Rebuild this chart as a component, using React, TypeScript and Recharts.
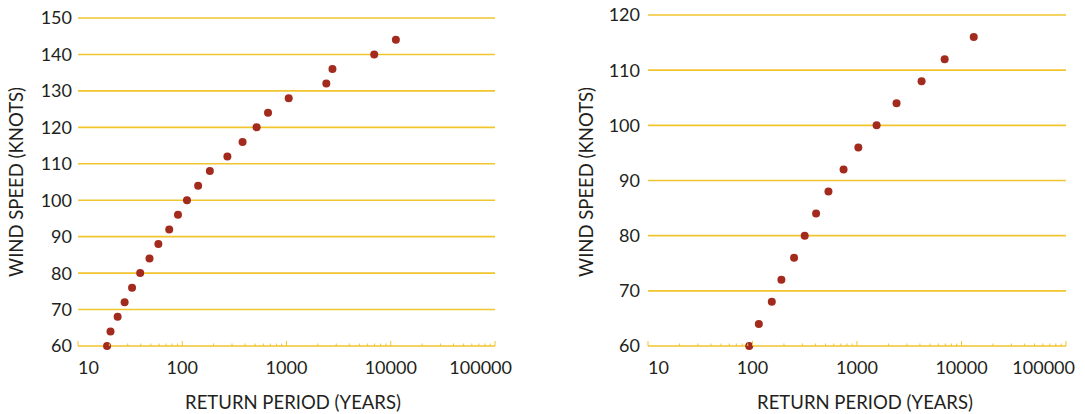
import { ScatterChart, Scatter, XAxis, YAxis, CartesianGrid } from "recharts";

// return period (years) vs wind speed (knots)
const leftPeriods = [19, 20.5, 24, 28, 33, 39.5, 48.5, 59, 75, 91, 111, 142, 184, 271, 379, 517, 665, 1050, 2410, 2760, 6940, 11200];
const leftSpeeds = [60, 64, 68, 72, 76, 80, 84, 88, 92, 96, 100, 104, 108, 112, 116, 120, 124, 128, 132, 136, 140, 144];

const rightPeriods = [93, 115, 153, 189, 250, 316, 406, 533, 744, 1030, 1540, 2390, 4150, 6900, 13100];
const rightSpeeds = [60, 64, 68, 72, 76, 80, 84, 88, 92, 96, 100, 104, 108, 112, 116];

const xTicks = [10, 100, 1000, 10000, 100000];
const minorSteps = [2, 3, 4, 5, 6, 7, 8, 9];
const leftYTicks = [60, 70, 80, 90, 100, 110, 120, 130, 140, 150];
const rightYTicks = [60, 70, 80, 90, 100, 110, 120];

const xTitle = "RETURN PERIOD (YEARS)";
const yTitle = "WIND SPEED (KNOTS)";

const GOLD = "#F0C52E";
const DOT = "#A32B1D";
const INK = "#231F20";
const FONT = "Lato, sans-serif";

// every tick mark along the log axis: decades plus 2..9 in between
const allTicks = xTicks.concat(
  xTicks.slice(0, -1).flatMap((d) => minorSteps.map((m) => d * m))
);

const Dot = (props: any) => <circle cx={props.cx} cy={props.cy} r={4} fill={DOT} />;

const makeBottomTick = (lastShift: number) => (props: any) => {
  const { x, y, payload } = props;
  const v = payload.value;
  const major = xTicks.includes(v);
  let anchor: "start" | "middle" | "end" = "middle";
  let tx = x;
  if (v === xTicks[0]) anchor = "start";
  if (v === xTicks[xTicks.length - 1]) {
    anchor = "end";
    tx = x + lastShift;
  }
  return (
    <g>
      <line x1={x} x2={x} y1={y} y2={y - (major ? 5 : 2.5)} stroke={GOLD} strokeWidth={1} />
      {major && (
        <text x={tx} y={y + 15} dy="0.71em" textAnchor={anchor} fill={INK} fontSize={18} fontFamily={FONT}>
          {v}
        </text>
      )}
    </g>
  );
};

const TopTick = (props: any) => {
  const { x, y, payload } = props;
  const major = xTicks.includes(payload.value);
  return <line x1={x} x2={x} y1={y} y2={y + (major ? 5 : 2.5)} stroke={GOLD} strokeWidth={1} />;
};

type PanelProps = {
  periods: number[];
  speeds: number[];
  yTicks: number[];
  left: number;
  top: number;
  right: number;
  yWidth: number;
  yMargin: number;
  lastShift: number;
  yTitleX: number;
  xTitleX: number;
};

const Panel = (p: PanelProps) => {
  const data = p.periods.map((period, i) => ({ period, speed: p.speeds[i] }));
  return (
    <div style={{ position: "absolute", left: p.left, top: 0, width: 540, height: 414 }}>
      <ScatterChart width={540} height={414} margin={{ top: p.top, right: p.right, bottom: 0, left: 0 }}>
        <CartesianGrid vertical={false} stroke={GOLD} strokeWidth={1.6} />
        <XAxis
          dataKey="period"
          type="number"
          scale="log"
          domain={[10, 100000]}
          ticks={allTicks}
          interval={0}
          height={68}
          axisLine={false}
          tickLine={false}
          tickSize={0}
          tickMargin={0}
          tick={makeBottomTick(p.lastShift)}
          allowDataOverflow
        />
        <XAxis
          xAxisId="top"
          orientation="top"
          type="number"
          scale="log"
          domain={[10, 100000]}
          ticks={allTicks}
          interval={0}
          height={0}
          axisLine={false}
          tickLine={false}
          tickSize={0}
          tickMargin={0}
          tick={TopTick}
          allowDataOverflow
        />
        <YAxis
          dataKey="speed"
          type="number"
          domain={[p.yTicks[0], p.yTicks[p.yTicks.length - 1]]}
          ticks={p.yTicks}
          interval={0}
          width={p.yWidth}
          axisLine={false}
          tickLine={false}
          tickSize={0}
          tickMargin={p.yMargin}
          tick={{ fill: INK, fontSize: 18, fontFamily: FONT }}
        />
        <Scatter data={data} shape={<Dot />} isAnimationActive={false} />
      </ScatterChart>
      <div
        style={{
          position: "absolute",
          left: p.yTitleX,
          top: 182,
          transform: "translate(-50%, -50%) rotate(-90deg)",
          whiteSpace: "nowrap",
          fontFamily: FONT,
          fontSize: 18.5,
          color: INK,
        }}
      >
        {yTitle}
      </div>
      <div
        style={{
          position: "absolute",
          left: p.xTitleX,
          top: 402,
          transform: "translate(-50%, -50%)",
          whiteSpace: "nowrap",
          fontFamily: FONT,
          fontSize: 18.5,
          color: INK,
        }}
      >
        {xTitle}
      </div>
    </div>
  );
};

export default function App() {
  return (
    <div style={{ position: "absolute", left: 0, top: 0, width: 1085, height: 414, background: "#fff" }}>
      <Panel
        periods={leftPeriods}
        speeds={leftSpeeds}
        yTicks={leftYTicks}
        left={0}
        top={18}
        right={45}
        yWidth={78}
        yMargin={6}
        lastShift={17}
        yTitleX={16}
        xTitleX={293}
      />
      <Panel
        periods={rightPeriods}
        speeds={rightSpeeds}
        yTicks={rightYTicks}
        left={545}
        top={15}
        right={19}
        yWidth={103}
        yMargin={8}
        lastShift={9}
        yTitleX={41}
        xTitleX={320}
      />
    </div>
  );
}
